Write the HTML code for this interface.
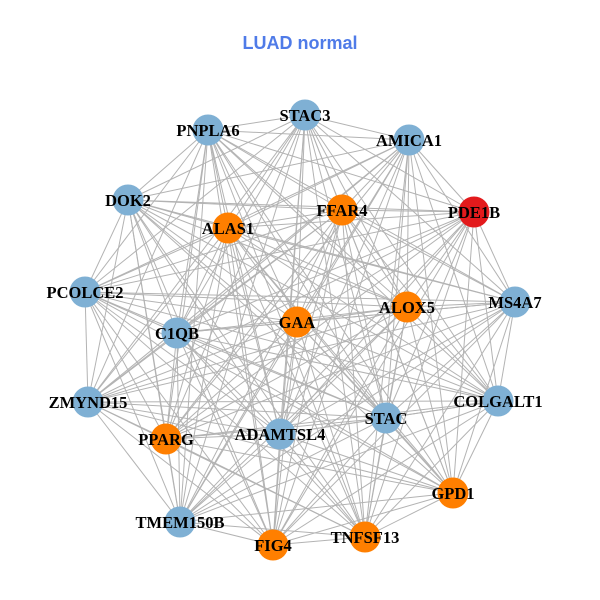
<!DOCTYPE html>
<html><head><style>body{margin:0;background:#fff}svg{display:block}</style></head>
<body>
<svg id="s" width="600" height="600" xmlns="http://www.w3.org/2000/svg">
<rect width="600" height="600" fill="#fff"/>
<text x="300" y="49" text-anchor="middle" font-family="Liberation Sans, sans-serif" font-weight="bold" font-size="18" fill="#4f7be8">LUAD normal</text>
<g id="edges" stroke="#b3b3b3" stroke-width="1"></g>
<g id="nodes"></g>
<g font-family="Liberation Serif, serif" font-weight="bold" font-size="16.5" text-anchor="middle" fill="#000">
<text x="305" y="121">STAC3</text>
<text x="208" y="136">PNPLA6</text>
<text x="409" y="146">AMICA1</text>
<text x="128" y="206">DOK2</text>
<text x="342" y="216">FFAR4</text>
<text x="228" y="234">ALAS1</text>
<text x="474" y="218">PDE1B</text>
<text x="85" y="298">PCOLCE2</text>
<text x="515" y="308">MS4A7</text>
<text x="407" y="313">ALOX5</text>
<text x="297" y="328">GAA</text>
<text x="177" y="339">C1QB</text>
<text x="88" y="408">ZMYND15</text>
<text x="498" y="407">COLGALT1</text>
<text x="386" y="424">STAC</text>
<text x="280" y="440">ADAMTSL4</text>
<text x="166" y="445">PPARG</text>
<text x="453" y="499">GPD1</text>
<text x="180" y="528">TMEM150B</text>
<text x="273" y="551">FIG4</text>
<text x="365" y="543">TNFSF13</text>
</g>
</svg>
<script>
var N=[[305,115,'b'],[208,130,'b'],[409,140,'b'],[128,200,'b'],[342,210,'o'],[228,228,'o'],[474,212,'r'],[85,292,'b'],[515,302,'b'],[407,307,'o'],[297,322,'o'],[177,333,'b'],[88,402,'b'],[498,401,'b'],[386,418,'b'],[280,434,'b'],[166,439,'o'],[453,493,'o'],[180,522,'b'],[273,545,'o'],[365,537,'o']];
var C={b:'#7fb0d4',o:'#ff7f00',r:'#e31a1c'};
var ns='http://www.w3.org/2000/svg',E=document.getElementById('edges'),G=document.getElementById('nodes');
for(var i=0;i<N.length;i++)for(var j=i+1;j<N.length;j++){var l=document.createElementNS(ns,'line');l.setAttribute('x1',N[i][0]);l.setAttribute('y1',N[i][1]);l.setAttribute('x2',N[j][0]);l.setAttribute('y2',N[j][1]);E.appendChild(l);}
N.forEach(function(n){var c=document.createElementNS(ns,'circle');c.setAttribute('cx',n[0]);c.setAttribute('cy',n[1]);c.setAttribute('r',15.5);c.setAttribute('fill',C[n[2]]);G.appendChild(c);});
</script>
</body></html>
